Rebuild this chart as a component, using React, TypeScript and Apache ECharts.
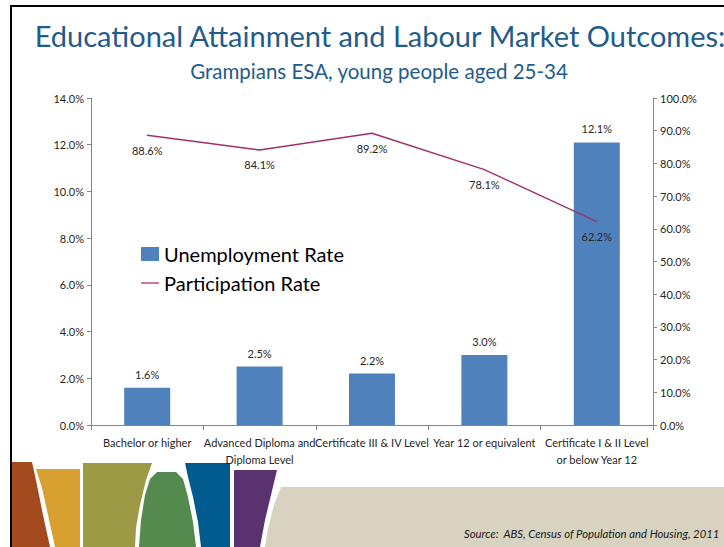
import React, { useEffect, useRef } from "react";
import * as echarts from "echarts";

const categories = [
  "Bachelor or higher",
  "Advanced Diploma and\nDiploma Level",
  "Certificate III & IV Level",
  "Year 12 or equivalent",
  "Certificate I & II Level\nor below Year 12",
];
const unemploymentRate = [1.6, 2.5, 2.2, 3.0, 12.1];
const participationRate = [88.6, 84.1, 89.2, 78.1, 62.2];
const leftTicks = { min: 0, max: 14, interval: 2 };
const rightTicks = { min: 0, max: 100, interval: 10 };

const FONT = "Lato, 'Open Sans', sans-serif";
const AXIS_GRAY = "#868686";

export default function App() {
  const ref = useRef<HTMLDivElement>(null);
  useEffect(() => {
    if (!ref.current) return;
    const chart = echarts.init(ref.current, undefined, { renderer: "svg" });
    const poly = (points: number[][], fill: string) => ({
      type: "polygon",
      shape: { points },
      style: { fill },
      silent: true,
      z: -1,
    });
    chart.setOption({
      animation: false,
      backgroundColor: "#ffffff",
      textStyle: { fontFamily: FONT },
      title: [
        {
          text: "Educational Attainment and Labour Market Outcomes:",
          left: 375,
          textAlign: "center",
          top: 16,
          textStyle: { fontSize: 29, fontWeight: "normal", color: "#1F5C8B", fontFamily: FONT },
        },
        {
          text: "Grampians ESA, young people aged 25-34",
          left: 374,
          textAlign: "center",
          top: 55,
          textStyle: { fontSize: 20.5, fontWeight: "normal", color: "#1F5C8B", fontFamily: FONT },
        },
      ],
      legend: {
        orient: "vertical",
        left: 136,
        top: 239,
        itemGap: 9,
        itemWidth: 18,
        itemHeight: 14,
        textStyle: { fontSize: 20, color: "#000000", fontFamily: FONT },
        data: [
          { name: "Unemployment Rate", icon: "rect" },
          { name: "Participation Rate", icon: "path://M0,0 L20,0 L20,1.4 L0,1.4 Z" },
        ],
      },
      grid: { left: 91, right: 71, top: 98, bottom: 122, containLabel: false },
      xAxis: {
        type: "category",
        data: categories,
        axisLine: { lineStyle: { color: AXIS_GRAY } },
        axisTick: { show: true, length: 5, lineStyle: { color: AXIS_GRAY } },
        axisLabel: {
          interval: 0,
          fontSize: 11,
          color: "#262626",
          lineHeight: 17,
          margin: 9,
          fontFamily: FONT,
        },
      },
      yAxis: [
        {
          type: "value",
          ...leftTicks,
          position: "left",
          axisLine: { show: true, lineStyle: { color: AXIS_GRAY } },
          axisTick: { show: true, length: 4, lineStyle: { color: AXIS_GRAY } },
          splitLine: { show: false },
          axisLabel: {
            fontSize: 11,
            color: "#262626",
            margin: 7,
            fontFamily: FONT,
            formatter: (v: number) => v.toFixed(1) + "%",
          },
        },
        {
          type: "value",
          ...rightTicks,
          position: "right",
          axisLine: { show: true, lineStyle: { color: AXIS_GRAY } },
          axisTick: { show: true, length: 4, lineStyle: { color: AXIS_GRAY } },
          splitLine: { show: false },
          axisLabel: {
            fontSize: 11,
            color: "#262626",
            margin: 7,
            fontFamily: FONT,
            formatter: (v: number) => v.toFixed(1) + "%",
          },
        },
      ],
      series: [
        {
          name: "Unemployment Rate",
          type: "bar",
          data: unemploymentRate,
          yAxisIndex: 0,
          barWidth: 46,
          itemStyle: { color: "#4F81BD" },
          label: {
            show: true,
            position: "top",
            distance: 8,
            fontSize: 11,
            color: "#262626",
            fontFamily: FONT,
            formatter: (p: any) => p.value.toFixed(1) + "%",
          },
        },
        {
          name: "Participation Rate",
          type: "line",
          data: participationRate,
          yAxisIndex: 1,
          symbol: "circle",
          symbolSize: 1,
          itemStyle: { color: "#A0306A" },
          lineStyle: { color: "#A0306A", width: 1.5 },
          label: {
            show: true,
            position: "bottom",
            distance: 9,
            fontSize: 11,
            color: "#262626",
            fontFamily: FONT,
            formatter: (p: any) => p.value.toFixed(1) + "%",
          },
        },
      ],
      graphic: [
        { type: "rect", shape: { x: 10, y: 5, width: 714, height: 2 }, style: { fill: "#000" }, silent: true },
        { type: "rect", shape: { x: 10, y: 5, width: 2, height: 542 }, style: { fill: "#000" }, silent: true },
        poly([[281, 487], [724, 487], [724, 547], [265, 547], [268, 528], [274, 505]], "#D8D2C0"),
        poly([[12, 462], [32, 462], [37, 485], [43, 515], [50, 547], [12, 547]], "#A34A1E"),
        poly([[36, 469], [80, 469], [80, 547], [55, 547], [48, 515], [42, 488]], "#D8A031"),
        poly([[83, 463], [152, 463], [146, 480], [140, 505], [136, 528], [135, 547], [83, 547]], "#9C9A45"),
        poly(
          [[139, 547], [141, 520], [145, 495], [150, 479], [157, 472], [176, 472], [183, 479], [188, 497], [193, 522], [196, 547]],
          "#548A4E"
        ),
        poly([[185, 463], [230, 463], [230, 547], [201, 547], [198, 522], [193, 497], [188, 477]], "#005C8F"),
        poly([[234, 470], [277, 470], [271, 495], [265, 520], [260, 547], [234, 547]], "#5A3270"),
        {
          type: "text",
          left: 464,
          top: 528,
          style: {
            text: "Source:  ABS, Census of Population and Housing, 2011",
            fontSize: 11.3,
            fontStyle: "italic",
            fill: "#1a1a1a",
            fontFamily: FONT,
          },
          silent: true,
        },
      ],
    });
    return () => chart.dispose();
  }, []);
  return (
    <div
      ref={ref}
      style={{ position: "absolute", left: 0, top: 0, width: 724, height: 547 }}
    />
  );
}
